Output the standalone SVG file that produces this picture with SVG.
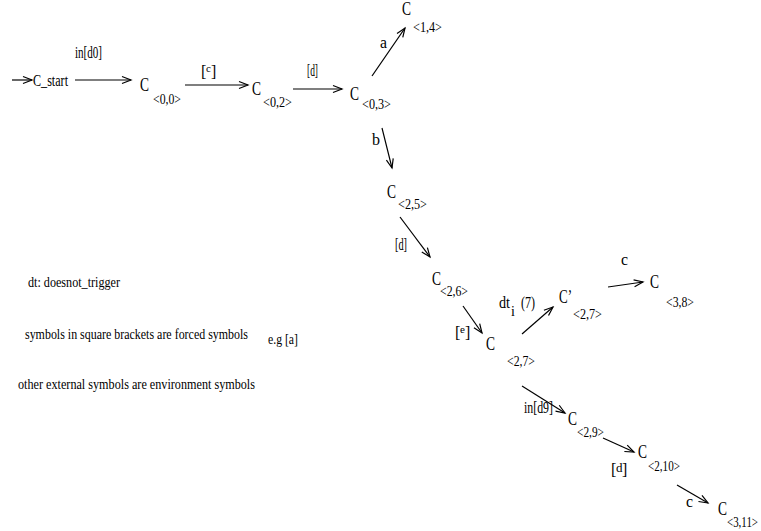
<svg xmlns="http://www.w3.org/2000/svg" width="761" height="531" viewBox="0 0 761 531">
<style>
text{font-family:"Liberation Serif","Times New Roman",serif;fill:#000}
.n{font-size:18px}
.s{font-size:15px}
.l{font-size:16px}
.g{font-size:15px}
.e{fill:none;stroke:#000;stroke-width:1.2;marker-end:url(#ah)}
</style>
<defs>
<marker id="ah" markerWidth="12" markerHeight="10" refX="10" refY="5" orient="auto" markerUnits="userSpaceOnUse">
<path d="M1,1.5 L10,5 L1,8.5" fill="none" stroke="#000" stroke-width="1.2"/>
</marker>
</defs>
<rect width="761" height="531" fill="#fff"/>

<g id="connectors">
<line class="e" x1="12" y1="80" x2="32" y2="80"/>
<line class="e" x1="75" y1="80" x2="131" y2="80"/>
<text class="l" x="75" y="58" textLength="27" lengthAdjust="spacingAndGlyphs">in[d0]</text>
<line class="e" x1="185" y1="85" x2="248" y2="85"/>
<text class="l" y="77"><tspan x="201">[</tspan><tspan x="206" y="72" font-size="11">c</tspan><tspan x="211" y="77">]</tspan></text>
<line class="e" x1="293" y1="89" x2="342" y2="89"/>
<text class="l" x="307" y="76" textLength="11" lengthAdjust="spacingAndGlyphs">[d]</text>
<line class="e" x1="372" y1="76" x2="405" y2="28"/>
<text class="l" x="380" y="48" textLength="7" lengthAdjust="spacingAndGlyphs">a</text>
<line class="e" x1="382" y1="128" x2="392" y2="168"/>
<text class="l" x="372" y="145" textLength="8" lengthAdjust="spacingAndGlyphs">b</text>
<line class="e" x1="400" y1="217" x2="430" y2="257"/>
<text class="l" x="395" y="250" textLength="12" lengthAdjust="spacingAndGlyphs">[d]</text>
<line class="e" x1="463" y1="306" x2="482" y2="333"/>
<text class="l" y="338"><tspan x="455">[</tspan><tspan x="460" y="333" font-size="11">e</tspan><tspan x="465" y="338">]</tspan></text>
<line class="e" x1="522" y1="334" x2="553" y2="307"/>
<text class="l" y="308"><tspan x="499" textLength="11" lengthAdjust="spacingAndGlyphs">dt</tspan><tspan x="511" y="316" font-size="14">i</tspan><tspan x="521" y="308" textLength="14" lengthAdjust="spacingAndGlyphs">(7)</tspan></text>
<line class="e" x1="608" y1="287" x2="643" y2="282"/>
<text class="l" x="621" y="265" textLength="7" lengthAdjust="spacingAndGlyphs">c</text>
<line class="e" x1="522" y1="386" x2="565" y2="413"/>
<text class="l" x="524" y="413" textLength="29" lengthAdjust="spacingAndGlyphs">in[d9]</text>
<line class="e" x1="603" y1="438" x2="634" y2="452"/>
<text class="l" y="475"><tspan x="611">[</tspan><tspan x="616" y="472" font-size="13">d</tspan><tspan x="622" y="475">]</tspan></text>
<line class="e" x1="677" y1="485" x2="708" y2="503"/>
<text class="l" x="686" y="507" textLength="7" lengthAdjust="spacingAndGlyphs">c</text>
</g>

<g id="start">
<text class="l" x="33" y="86" textLength="35" lengthAdjust="spacingAndGlyphs">C_start</text>
</g>
<g id="n00">
<text class="n" x="140" y="91" textLength="9" lengthAdjust="spacingAndGlyphs">C</text>
<text class="s" x="153" y="104" textLength="28" lengthAdjust="spacingAndGlyphs">&lt;0,0&gt;</text>
</g>
<g id="n02">
<text class="n" x="252" y="95" textLength="9" lengthAdjust="spacingAndGlyphs">C</text>
<text class="s" x="263" y="107" textLength="29" lengthAdjust="spacingAndGlyphs">&lt;0,2&gt;</text>
</g>
<g id="n03">
<text class="n" x="350" y="100" textLength="9" lengthAdjust="spacingAndGlyphs">C</text>
<text class="s" x="362" y="109" textLength="29" lengthAdjust="spacingAndGlyphs">&lt;0,3&gt;</text>
</g>
<g id="n14">
<text class="n" x="402" y="15" textLength="9" lengthAdjust="spacingAndGlyphs">C</text>
<text class="s" x="413" y="32" textLength="29" lengthAdjust="spacingAndGlyphs">&lt;1,4&gt;</text>
</g>
<g id="n25">
<text class="n" x="387" y="198" textLength="9" lengthAdjust="spacingAndGlyphs">C</text>
<text class="s" x="398" y="209" textLength="29" lengthAdjust="spacingAndGlyphs">&lt;2,5&gt;</text>
</g>
<g id="n26">
<text class="n" x="432" y="285" textLength="9" lengthAdjust="spacingAndGlyphs">C</text>
<text class="s" x="440" y="296" textLength="28" lengthAdjust="spacingAndGlyphs">&lt;2,6&gt;</text>
</g>
<g id="n27">
<text class="n" x="486" y="350" textLength="9" lengthAdjust="spacingAndGlyphs">C</text>
<text class="s" x="507" y="366" textLength="28" lengthAdjust="spacingAndGlyphs">&lt;2,7&gt;</text>
</g>
<g id="n27p">
<text class="n" x="559" y="303" textLength="13" lengthAdjust="spacingAndGlyphs">C’</text>
<text class="s" x="573" y="319" textLength="29" lengthAdjust="spacingAndGlyphs">&lt;2,7&gt;</text>
</g>
<g id="n38">
<text class="n" x="650" y="288" textLength="9" lengthAdjust="spacingAndGlyphs">C</text>
<text class="s" x="666" y="307" textLength="28" lengthAdjust="spacingAndGlyphs">&lt;3,8&gt;</text>
</g>
<g id="n29">
<text class="n" x="568" y="425" textLength="9" lengthAdjust="spacingAndGlyphs">C</text>
<text class="s" x="577" y="437" textLength="27" lengthAdjust="spacingAndGlyphs">&lt;2,9&gt;</text>
</g>
<g id="n210">
<text class="n" x="638" y="458" textLength="9" lengthAdjust="spacingAndGlyphs">C</text>
<text class="s" x="648" y="471" textLength="32" lengthAdjust="spacingAndGlyphs">&lt;2,10&gt;</text>
</g>
<g id="n311">
<text class="n" x="718" y="515" textLength="9" lengthAdjust="spacingAndGlyphs">C</text>
<text class="s" x="727" y="527" textLength="31" lengthAdjust="spacingAndGlyphs">&lt;3,11&gt;</text>
</g>

<g id="legend">
<text class="g" x="28" y="287" textLength="92" lengthAdjust="spacingAndGlyphs">dt: doesnot_trigger</text>
<text class="g" x="25" y="339" textLength="223" lengthAdjust="spacingAndGlyphs">symbols in square brackets are forced symbols</text>
<text class="g" x="268" y="344" textLength="30" lengthAdjust="spacingAndGlyphs">e.g [a]</text>
<text class="g" x="18" y="389" textLength="237" lengthAdjust="spacingAndGlyphs">other external symbols are environment symbols</text>
</g>
</svg>
